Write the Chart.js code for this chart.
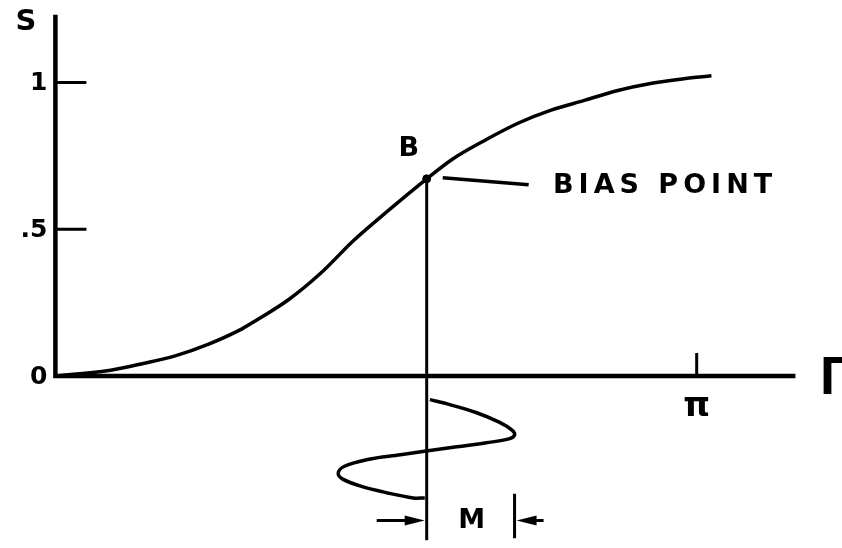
<!DOCTYPE html>
<html>
<head>
<meta charset="utf-8">
<script src="https://cdn.jsdelivr.net/npm/chart.js@4/dist/chart.umd.min.js"></script>
<style>
  html, body { margin: 0; padding: 0; background: #fff; }
  #wrap { width: 842px; height: 548px; }
</style>
</head>
<body>
<div id="wrap"><canvas id="transferChart" width="842" height="548"></canvas></div>
<script>
// Transfer curve S(Γ), Γ in units of π
const gamma  = [0, 0.086, 0.137, 0.188, 0.240, 0.291, 0.311, 0.364, 0.414, 0.465, 0.518, 0.579,
                0.619, 0.672, 0.723, 0.773, 0.826, 0.877, 0.928, 0.980, 1.023];
const signal = [0, 0.020, 0.043, 0.070, 0.110, 0.161, 0.187, 0.261, 0.351, 0.462, 0.562, 0.672,
                0.739, 0.806, 0.863, 0.906, 0.940, 0.973, 0.997, 1.013, 1.023];

// Bias point on the curve
const biasGamma = 0.579;
const biasS = 0.672;

// Modulation swing drawn below the axis (Γ vs. time going down)
const modGamma = [0.584, 0.615, 0.656, 0.692, 0.712, 0.716, 0.707, 0.672, 0.626, 0.581, 0.538,
                  0.487, 0.450, 0.441, 0.448, 0.476, 0.518, 0.558, 0.576];
const modTime  = [-0.080, -0.097, -0.124, -0.157, -0.184, -0.201, -0.214, -0.227, -0.241, -0.254, -0.268,
                  -0.284, -0.308, -0.331, -0.351, -0.375, -0.398, -0.415, -0.415];

// Leader from the bias point to its caption
const leaderGamma = [0.604, 0.738];
const leaderS = [0.676, 0.652];

// Axes and ticks
const yTicks = [0, 0.5, 1];
const yTickLabels = ['0', '.5', '1'];
const xTicks = [1];
const xTickLabels = ['π'];
const yAxisTop = 1.231;
const xAxisEnd = 1.154;
const dropBottom = -0.559;
const mLevel = -0.492;

const FONT = '"DejaVu Sans", "Liberation Sans", sans-serif';
const pts = (xs, ys) => xs.map((x, i) => ({x: x, y: ys[i]}));

// Axes, tick marks, labels and the M dimension
const annotations = {
    id: 'annotations',
    afterDraw(chart) {
        const ctx = chart.ctx;
        const sx = chart.scales.x, sy = chart.scales.y;
        const X = v => sx.getPixelForValue(v);
        const Y = v => sy.getPixelForValue(v);
        ctx.save();
        ctx.strokeStyle = '#000';
        ctx.fillStyle = '#000';
        ctx.lineCap = 'butt';

        // axes
        ctx.lineWidth = 4.5;
        ctx.beginPath();
        ctx.moveTo(X(0), Y(yAxisTop));
        ctx.lineTo(X(0), Y(0) + 2);
        ctx.moveTo(X(0) - 2, Y(0));
        ctx.lineTo(X(xAxisEnd), Y(0));
        ctx.stroke();

        // tick marks
        ctx.lineWidth = 3;
        ctx.beginPath();
        yTicks.forEach(t => {
            if (t === 0) return;
            ctx.moveTo(X(0), Y(t));
            ctx.lineTo(X(0) + 31, Y(t));
        });
        xTicks.forEach(t => {
            ctx.moveTo(X(t), Y(0));
            ctx.lineTo(X(t), Y(0) - 23);
        });
        ctx.stroke();

        ctx.font = 'bold 25px ' + FONT;
        ctx.textBaseline = 'middle';
        ctx.textAlign = 'right';
        yTicks.forEach((t, i) => ctx.fillText(yTickLabels[i], X(0) - 8, Y(t) + 1));
        ctx.textAlign = 'center';
        ctx.font = 'bold 34px ' + FONT;
        xTicks.forEach((t, i) => ctx.fillText(xTickLabels[i], X(t), Y(0) + 31));

        // axis titles
        ctx.font = 'bold 29px ' + FONT;
        ctx.fillText('S', 26, 22);
        ctx.textAlign = 'left';
        ctx.font = 'bold 54px "Liberation Sans", Arial, sans-serif';
        ctx.fillText('Γ', 820, Y(0) + 3);

        // bias point labels
        ctx.textAlign = 'center';
        ctx.font = 'bold 27px ' + FONT;
        ctx.fillText('B', X(biasGamma) - 18, Y(biasS) - 30);
        ctx.textAlign = 'left';
        let tx = 553;
        for (const ch of 'BIAS POINT') {
            ctx.fillText(ch, tx, 186);
            tx += ctx.measureText(ch).width + 5;
        }

        // M dimension: arrows pointing in at both limits
        const xl = X(biasGamma), xr = X(Math.max(...modGamma)), ym = Y(mLevel);
        ctx.lineWidth = 3;
        ctx.beginPath();
        ctx.moveTo(xl - 50, ym);
        ctx.lineTo(xl - 10, ym);
        ctx.moveTo(xr, Y(-0.401));
        ctx.lineTo(xr, Y(dropBottom) - 2);
        ctx.moveTo(xr + 10, ym);
        ctx.lineTo(xr + 29, ym);
        ctx.stroke();
        const head = (tipX, dir) => {
            ctx.beginPath();
            ctx.moveTo(tipX, ym);
            ctx.lineTo(tipX - dir * 20, ym - 5);
            ctx.lineTo(tipX - dir * 20, ym + 5);
            ctx.closePath();
            ctx.fill();
        };
        head(xl - 2, 1);
        head(xr + 2, -1);
        ctx.font = 'bold 27px ' + FONT;
        ctx.textAlign = 'center';
        ctx.fillText('M', (xl + xr) / 2 + 1, ym);
        ctx.restore();
    }
};

new Chart(document.getElementById('transferChart'), {
    type: 'scatter',
    data: {
        datasets: [
            {
                data: pts(gamma, signal),
                showLine: true,
                borderColor: '#000',
                borderWidth: 3.5,
                cubicInterpolationMode: 'monotone',
                pointRadius: 0
            },
            {
                data: [{x: biasGamma, y: biasS}, {x: biasGamma, y: dropBottom}],
                showLine: true,
                borderColor: '#000',
                borderWidth: 3,
                pointRadius: 0
            },
            {
                data: pts(modGamma, modTime),
                showLine: true,
                borderColor: '#000',
                borderWidth: 3.5,
                tension: 0.35,
                pointRadius: 0
            },
            {
                data: pts(leaderGamma, leaderS),
                showLine: true,
                borderColor: '#000',
                borderWidth: 3.5,
                pointRadius: 0
            },
            {
                data: [{x: biasGamma, y: biasS}],
                backgroundColor: '#000',
                borderColor: '#000',
                pointRadius: 4
            }
        ]
    },
    options: {
        responsive: false,
        animation: false,
        layout: { padding: 0 },
        plugins: {
            legend: { display: false },
            tooltip: { enabled: false }
        },
        scales: {
            x: { type: 'linear', min: -51 / 649, max: 791 / 649, display: false },
            y: { type: 'linear', min: -170 / 299, max: 1 + 79 / 299, display: false }
        }
    },
    plugins: [annotations]
});
</script>
</body>
</html>
